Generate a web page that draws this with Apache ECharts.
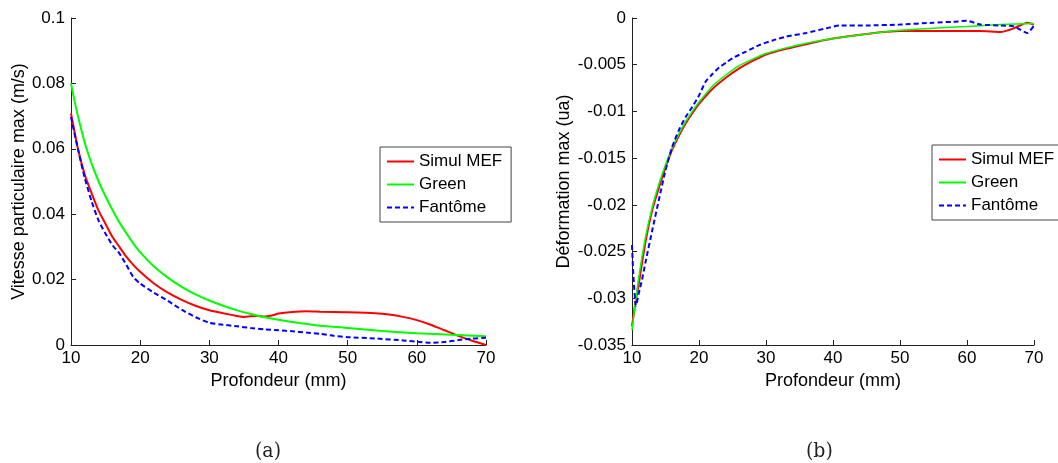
<!DOCTYPE html>
<html>
<head>
<meta charset="utf-8">
<script src="https://cdn.jsdelivr.net/npm/echarts@6/dist/echarts.min.js"></script>
<style>
html,body{margin:0;padding:0;background:#fff;}
#c{width:1058px;height:463px;}
</style>
</head>
<body>
<div id="c"></div>
<script>
// ---------- Data (a): Vitesse particulaire max (m/s) ----------
var depthSimulA = [10,11,12,13,14,15,16,17,18,19,20,22,24,26,28,30,32,34,35,36,37,38,39,40,42,44,46,50,54,56,58,60,62,64,66,68,70];
var simulA      = [0.0708,0.060,0.052,0.0463,0.041,0.037,0.033,0.030,0.027,0.0245,0.0224,0.0188,0.0160,0.0138,0.0120,0.0106,0.0097,0.0089,0.0086,0.0088,0.0089,0.0087,0.0090,0.0096,0.0101,0.0103,0.0102,0.0100,0.0097,0.0093,0.0086,0.0076,0.0062,0.0045,0.0028,0.0013,0.0000];
var depthGreenA = [10,10.5,11,12,13,14,15,16,17,18,19,20,22,24,26,28,30,32,34,36,38,40,43,46,50,55,60,65,70];
var greenA      = [0.080,0.0748,0.0700,0.0618,0.0554,0.0500,0.0454,0.0413,0.0375,0.0342,0.0311,0.0284,0.0240,0.0206,0.0178,0.0155,0.0136,0.0120,0.0106,0.0095,0.0085,0.0077,0.0067,0.0059,0.0052,0.0043,0.0036,0.0031,0.0027];
var depthFantomeA = [10,11,12,13,14,15,16,17,18,19,20,22,24,26,28,30,32,34,36,38,40,42,44,46,48,50,54,58,60,62,64,66,68,70];
var fantomeA      = [0.0697,0.060,0.051,0.0438,0.038,0.034,0.0305,0.028,0.0245,0.0208,0.0188,0.0160,0.0135,0.0108,0.0085,0.0068,0.0062,0.0057,0.0052,0.0048,0.0045,0.0042,0.0038,0.0034,0.0028,0.0024,0.0020,0.0014,0.0010,0.0007,0.0009,0.0015,0.0020,0.0022];

// ---------- Data (b): Déformation max (ua) ----------
var depthSimulB = [10,10.5,11,12,13,14,15,16,17,18,19,20,22,24,26,28,30,33,36,40,45,50,55,60,62,65,67,69,70];
var simulB      = [-0.0330,-0.0305,-0.0285,-0.0240,-0.0206,-0.0182,-0.0160,-0.0141,-0.0126,-0.0113,-0.0102,-0.0092,-0.0076,-0.0064,-0.0054,-0.0046,-0.0039,-0.0033,-0.0028,-0.0022,-0.0017,-0.0014,-0.0014,-0.0014,-0.0014,-0.0015,-0.0011,-0.0005,-0.0007];
var depthGreenB = [10,11,12,13,14,15,16,17,18,19,20,22,24,26,28,30,33,36,40,45,50,55,60,65,70];
var greenB      = [-0.0334,-0.0278,-0.0235,-0.0203,-0.0178,-0.0157,-0.0139,-0.0124,-0.0111,-0.0100,-0.0090,-0.0073,-0.0061,-0.0051,-0.0044,-0.0038,-0.0032,-0.0027,-0.0022,-0.0017,-0.0013,-0.0011,-0.0009,-0.0007,-0.0006];
var depthFantomeB = [10,10.2,10.6,11,11.5,12,13,14,15,16,17,18,19,20,21,22,23,24,25,27,29,31,33,36,39,41,45,50,55,58,60,62,65,67,69,70];
var fantomeB      = [-0.0243,-0.0275,-0.0308,-0.0295,-0.0280,-0.0262,-0.0228,-0.0195,-0.0163,-0.0138,-0.0120,-0.0106,-0.0095,-0.0083,-0.0068,-0.0060,-0.0053,-0.0048,-0.0043,-0.0036,-0.0029,-0.0024,-0.0020,-0.0016,-0.0011,-0.0008,-0.0008,-0.0007,-0.0005,-0.0004,-0.0003,-0.0007,-0.0008,-0.0009,-0.0016,-0.0008];

// ---------- Labels ----------
var seriesNames = ['Simul MEF','Green','Fantôme'];
var xTitle = 'Profondeur (mm)';
var yTitleA = 'Vitesse particulaire max (m/s)';
var yTitleB = 'Déformation max (ua)';
var captions = ['(a)','(b)'];

function zip(xs, ys){ return xs.map(function(x,i){ return [x, ys[i]]; }); }

var FONT = 'Liberation Sans, Arial, sans-serif';
var axisColor = '#222';

function xAxisDef(gi){
  return {
    type:'value', gridIndex:gi, min:10, max:70, interval:10,
    name:xTitle, nameLocation:'middle', nameGap:26,
    nameTextStyle:{fontFamily:FONT,fontSize:18,color:'#000'},
    axisLine:{show:true,onZero:false,lineStyle:{color:axisColor,width:1}},
    axisTick:{show:true,inside:true,length:5,lineStyle:{color:axisColor}},
    axisLabel:{fontFamily:FONT,fontSize:17,color:'#000',margin:5},
    splitLine:{show:false}
  };
}
function yAxisDef(gi, min, max, interval, name, gap){
  return {
    type:'value', gridIndex:gi, min:min, max:max, interval:interval,
    name:name, nameLocation:'middle', nameGap:gap, nameRotate:90,
    nameTextStyle:{fontFamily:FONT,fontSize:18,color:'#000'},
    axisLine:{show:true,onZero:false,lineStyle:{color:axisColor,width:1}},
    axisTick:{show:true,inside:true,length:5,lineStyle:{color:axisColor}},
    axisLabel:{fontFamily:FONT,fontSize:17,color:'#000',margin:6},
    splitLine:{show:false}
  };
}
function lineSeries(name, gi, data, color, width, dashed){
  return {
    name:name, type:'line', xAxisIndex:gi, yAxisIndex:gi,
    data:data, symbol:'none', smooth:0.2, animation:false,
    lineStyle:{color:color,width:width,type:dashed?[5,3]:'solid'},
    itemStyle:{color:color}
  };
}
function legendDef(left, top){
  return {
    orient:'vertical', left:left, top:top,
    data:seriesNames,
    backgroundColor:'#fff', borderColor:'#444', borderWidth:1,
    padding:[6,9,6,6], itemGap:6, itemWidth:27, itemHeight:14,
    itemStyle:{color:'rgba(0,0,0,0)', borderColor:'rgba(0,0,0,0)', borderWidth:0, opacity:0},
    textStyle:{fontFamily:FONT,fontSize:17,color:'#000'},
    selectedMode:false
  };
}

var chart = echarts.init(document.getElementById('c'), null, {renderer:'canvas'});
chart.setOption({
  backgroundColor:'#fff',
  animation:false,
  grid:[
    {left:71, top:18, width:415, height:327},
    {left:632, top:18, width:402, height:327}
  ],
  xAxis:[xAxisDef(0), xAxisDef(1)],
  yAxis:[
    yAxisDef(0, 0, 0.1, 0.02, yTitleA, 40),
    yAxisDef(1, -0.035, 0, 0.005, yTitleB, 59)
  ],
  legend:[legendDef(380,147), legendDef(932,145)],
  series:[
    lineSeries(seriesNames[0],0,zip(depthSimulA,simulA),'#ff0000',2,false),
    lineSeries(seriesNames[1],0,zip(depthGreenA,greenA),'#00ff00',2,false),
    lineSeries(seriesNames[2],0,zip(depthFantomeA,fantomeA),'#0000ff',2,true),
    lineSeries(seriesNames[0],1,zip(depthSimulB,simulB),'#ff0000',2,false),
    lineSeries(seriesNames[1],1,zip(depthGreenB,greenB),'#00ff00',1.5,false),
    lineSeries(seriesNames[2],1,zip(depthFantomeB,fantomeB),'#0000ff',2,true)
  ],
  graphic:[
    {type:'text', left:255, top:441, style:{text:captions[0], font:'21px "DejaVu Serif Condensed", "DejaVu Serif", serif', fill:'#222'}},
    {type:'text', left:806, top:441, style:{text:captions[1], font:'21px "DejaVu Serif Condensed", "DejaVu Serif", serif', fill:'#222'}}
  ]
});
</script>
</body>
</html>
